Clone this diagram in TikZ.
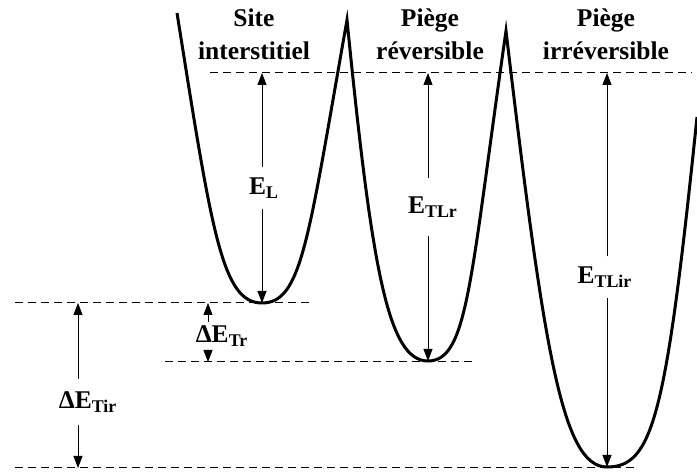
\documentclass[tikz,border=0pt]{standalone}
\usepackage{fontspec}
\setmainfont{Liberation Serif}
\usetikzlibrary{arrows.meta}

\begin{document}
\begin{tikzpicture}[x=0.5bp, y=-0.5bp, >={Triangle[length=6bp,width=4.5bp]},
    well/.style={line width=1.5bp},
    level/.style={dash pattern=on 4bp off 2.5bp, line width=0.5bp},
    every node/.style={font=\fontsize{12.75bp}{16.5bp}\selectfont\bfseries, align=center, inner xsep=0pt}]
    \useasboundingbox (0,0) rectangle (697,472);
    % energy levels
    \coordinate (top) at (0,73);
    \coordinate (minL) at (262,303);
    \coordinate (minTr) at (428,361);
    \coordinate (minTir) at (607,467);
    \draw[level] (210,73) -- (692,73);
    \draw[level] (15,303) -- (310,303);
    \draw[level] (165,362) -- (475,362);
    \draw[level] (15,468) -- (637,468);
    % potential wells
    \draw[well] (177,13) .. controls (212,233) and (222,303) .. (minL)
        .. controls (302,303) and (308,240) .. (347,20)
        .. controls (372,270) and (388,361) .. (minTr)
        .. controls (468,361) and (470,281) .. (506,31)
        .. controls (544,351) and (562,467) .. (minTir)
        .. controls (653,467) and (666,417) .. (697,117);
    % titles
    \node (site) at (254,34) {Site\\interstitiel};
    \node (rev)  at (430,34) {Piège\\réversible};
    \node (irr)  at (606,34) {Piège\\irréversible};
    % energies
    \node[inner ysep=5bp] (EL) at (264,188) {E\textsubscript{L}};
    \draw[->] (EL.north -| minL) -- (minL |- top);
    \draw[->] (EL.south -| minL) -- (minL);
    \node[inner ysep=9bp] (ETLr) at (433,207) {E\textsubscript{TLr}};
    \draw[->] (ETLr.north -| minTr) -- (minTr |- top);
    \draw[->] (ETLr.south -| minTr) -- (minTr);
    \node[inner ysep=5bp] (ETLir) at (605,277) {E\textsubscript{TLir}};
    \draw[->] (ETLir.north -| minTir) -- (minTir |- top);
    \draw[->] (ETLir.south -| minTir) -- (minTir);
    \node[inner ysep=1.5bp] (dTr) at (222,336) {ΔE\textsubscript{Tr}};
    \draw[->] (dTr.north -| 208,0) -- (208,303);
    \draw[->] (dTr.south -| 208,0) -- (208,362);
    \node[inner ysep=6bp] (dTir) at (88,402) {ΔE\textsubscript{Tir}};
    \draw[->] (dTir.north -| 78,0) -- (78,303);
    \draw[->] (dTir.south -| 78,0) -- (78,468);
\end{tikzpicture}
\end{document}
